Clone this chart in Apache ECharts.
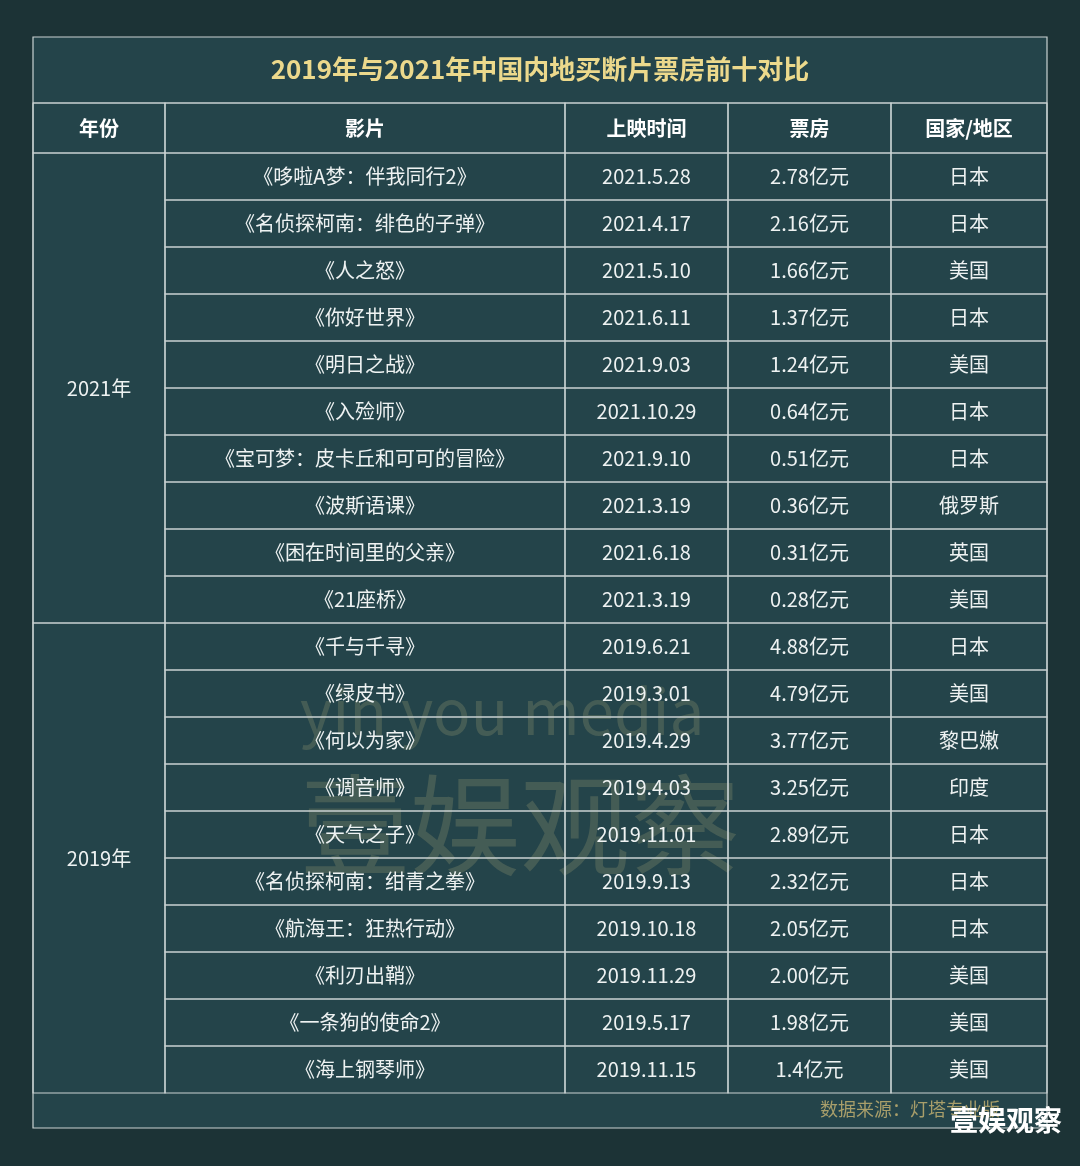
<!DOCTYPE html>
<html><head><meta charset="utf-8">
<script src="https://cdn.jsdelivr.net/npm/echarts@6/dist/echarts.min.js"></script>
<style>html,body{margin:0;padding:0;background:#1c3336}#c{width:1080px;height:1166px}</style>
</head><body><div id="c"></div>
<script>
const headers = ['年份','影片','上映时间','票房','国家/地区'];
const years = ['2021年','2019年'];
const films = ['《哆啦A梦：伴我同行2》','《名侦探柯南：绯色的子弹》','《人之怒》','《你好世界》','《明日之战》','《入殓师》','《宝可梦：皮卡丘和可可的冒险》','《波斯语课》','《困在时间里的父亲》','《21座桥》',
'《千与千寻》','《绿皮书》','《何以为家》','《调音师》','《天气之子》','《名侦探柯南：绀青之拳》','《航海王：狂热行动》','《利刃出鞘》','《一条狗的使命2》','《海上钢琴师》'];
const dates = ['2021.5.28','2021.4.17','2021.5.10','2021.6.11','2021.9.03','2021.10.29','2021.9.10','2021.3.19','2021.6.18','2021.3.19',
'2019.6.21','2019.3.01','2019.4.29','2019.4.03','2019.11.01','2019.9.13','2019.10.18','2019.11.29','2019.5.17','2019.11.15'];
const boxOffice = ['2.78亿元','2.16亿元','1.66亿元','1.37亿元','1.24亿元','0.64亿元','0.51亿元','0.36亿元','0.31亿元','0.28亿元',
'4.88亿元','4.79亿元','3.77亿元','3.25亿元','2.89亿元','2.32亿元','2.05亿元','2.00亿元','1.98亿元','1.4亿元'];
const countries = ['日本','日本','美国','日本','美国','日本','日本','俄罗斯','英国','美国',
'日本','美国','黎巴嫩','印度','日本','日本','日本','美国','美国','美国'];

const colEdges = [0,132,532,695,858,1014];
const F = 'Noto Sans CJK SC';
const LINE = '#c9d2d2';
const HMIN = -50/47;
const chart = echarts.init(document.getElementById('c'));
const rows = films.map((f,i)=>[i,f,dates[i],boxOffice[i],countries[i]]);
function cell(api,c0,c1,r0,r1,text,style){
  const p0=api.coord([colEdges[c0],r0]), p1=api.coord([colEdges[c1],r1]);
  return {type:'rect',shape:{x:p0[0],y:p0[1],width:p1[0]-p0[0],height:p1[1]-p0[1]},
    style:{fill:'rgba(0,0,0,0)',stroke:LINE,lineWidth:1.2},
    textContent:{style:Object.assign({text:text,fill:'#eef2f2',font:'20px "'+F+'"'},style||{})},
    textConfig:{position:'inside'}};
}
chart.setOption({
  backgroundColor:'#1c3336',
  animation:false,
  title:{text:'2019年与2021年中国内地买断片票房前十对比',left:'center',top:51,
    textStyle:{color:'#ecd98c',fontSize:26,fontWeight:'bold',fontFamily:F}},
  grid:{left:33,right:33,top:103,bottom:73},
  xAxis:{type:'value',min:0,max:1014,show:false},
  yAxis:{type:'value',min:HMIN,max:20,inverse:true,show:false},
  graphic:[
    {type:'rect',shape:{x:33,y:37,width:1014,height:1091},style:{fill:'#24444a',stroke:LINE,lineWidth:1.2},z:-10},
    {type:'line',shape:{x1:33,y1:103,x2:1047,y2:103},style:{stroke:LINE,lineWidth:1.2}},
    {type:'text',left:300,top:680,style:{text:'yin you media',fill:'rgba(200,190,130,0.2)',font:'62px "'+F+'"'},z:-1},
    {type:'text',left:300,top:770,style:{text:'壹娱观察',fill:'rgba(200,190,130,0.2)',font:'110px "'+F+'"'},z:-1},
    {type:'text',right:80,top:1100,style:{text:'数据来源：灯塔专业版',fill:'#a89e6a',font:'18px "'+F+'"'}},
    {type:'text',right:18,top:1106,style:{text:'壹娱观察',fill:'#ffffff',font:'bold 28px "'+F+'"'}}
  ],
  series:[
    {type:'custom',data:[0],renderItem:(p,api)=>({type:'group',children:headers.map((h,c)=>cell(api,c,c+1,HMIN,0,h,{font:'bold 20px "'+F+'"',fill:'#ffffff'}))})},
    {type:'custom',data:rows,renderItem:(p,api)=>{
      const i=api.value(0);
      return {type:'group',children:[1,2,3,4].map(c=>cell(api,c,c+1,i,i+1,rows[i][c]))};
    }},
    {type:'custom',data:years.map((y,k)=>[k]),renderItem:(p,api)=>{
      const k=api.value(0);
      return cell(api,0,1,k*10,k*10+10,years[k]);
    }}
  ]
});
</script></body></html>
